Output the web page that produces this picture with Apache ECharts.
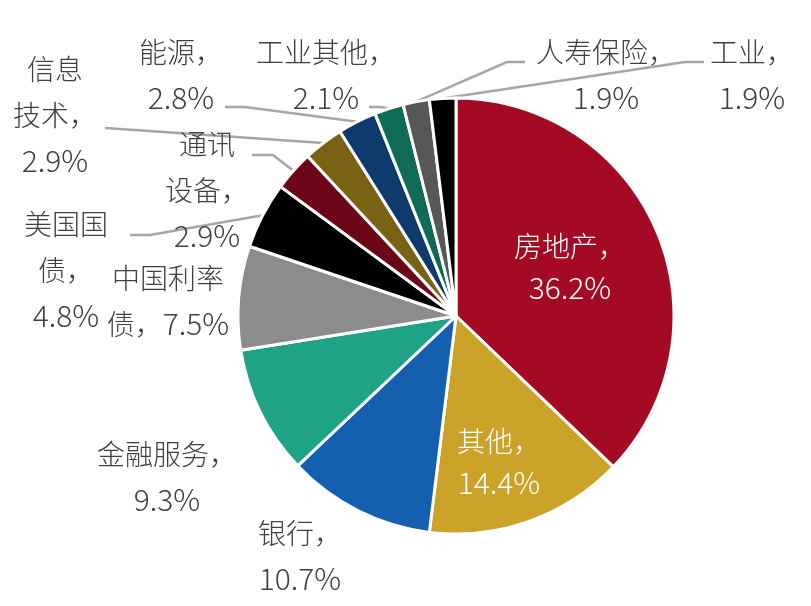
<!DOCTYPE html>
<html>
<head>
<meta charset="utf-8">
<title>行业分布饼图</title>
<script src="https://cdn.jsdelivr.net/npm/echarts@6/dist/echarts.min.js"></script>
<style>
  html, body { margin: 0; padding: 0; background: #fff; }
  #chart { width: 811px; height: 606px; }
</style>
</head>
<body>
<div id="chart"></div>
<script>
  // 数据
  var categories = ['房地产', '其他', '银行', '金融服务', '中国利率债', '美国国债', '通讯设备', '信息技术', '能源', '工业其他', '人寿保险', '工业'];
  var values = [36.2, 14.4, 10.7, 9.3, 7.5, 4.8, 2.9, 2.9, 2.8, 2.1, 1.9, 1.9];
  // 标签文字的换行方式
  var labelNames = ['房地产，\n', '其他，\n', '银行，\n', '金融服务，\n', '中国利率\n债，', '美国国\n债，\n', '通讯\n设备，\n', '信息\n技术，\n', '能源，\n', '工业其他，\n', '人寿保险，\n', '工业，\n'];

  var colors = ['#a50a25', '#c9a227', '#1460af', '#1fa387', '#8c8c8c', '#000000', '#6b0717', '#7a6214', '#0e3b6c', '#106a58', '#575757', '#000000'];

  // 标签中心位置
  var labelPos = [[570, 267], [499, 462], [300, 556], [167, 477], [168, 301], [66, 270],
                  [207, 190], [55, 115], [181, 75], [326, 75], [606, 75], [752, 75]];
  // 引导线拐点和终点（起点由饼图给出）
  var guides = [null, null, null, null, null,
                [[150, 235], [130, 235]],
                [[273, 155], [252, 155]],
                [[120, 129], [105, 128]],
                [[245, 107], [225, 107]],
                [[380, 107], [369, 107]],
                [[507, 62], [525, 62]],
                [[685, 62], [704, 62]]];

  var pieData = categories.map(function (name, i) {
    var item = { name: name, value: values[i], itemStyle: { color: colors[i] } };
    if (i < 2) item.label = { position: 'inside', color: '#fff' };
    if (!guides[i]) item.labelLine = { show: false };
    return item;
  });

  var myChart = echarts.init(document.getElementById('chart'));
  var option = {
    backgroundColor: '#fff',
    animation: false,
    series: [{
      type: 'pie',
      center: [456, 316],
      radius: 218,
      startAngle: 90,
      clockwise: true,
      avoidLabelOverlap: false,
      itemStyle: { borderColor: '#fff', borderWidth: 3 },
      label: {
        show: true,
        position: 'outside',
        fontFamily: '"Noto Sans CJK SC", sans-serif',
        fontWeight: 300,
        color: '#404040',
        formatter: function (p) {
          var k = p.dataIndex < 2 ? 'i' : '';
          var s = labelNames[p.dataIndex].split('\n').map(function (t) {
            return t ? '{n' + k + '|' + t + '}' : '';
          }).join('\n');
          return s + '{v' + k + '|' + p.value + '%}';
        },
        rich: {
          n: { fontSize: 28, lineHeight: 46, fontWeight: 300 },
          v: { fontSize: 30, lineHeight: 46, fontWeight: 300 },
          ni: { fontSize: 28, lineHeight: 41, fontWeight: 300 },
          vi: { fontSize: 30, lineHeight: 41, fontWeight: 300 }
        }
      },
      labelLine: {
        show: true,
        length: 10,
        length2: 10,
        lineStyle: { color: '#a6a6a6', width: 2.5 }
      },
      labelLayout: function (p) {
        var i = p.dataIndex;
        var o = { x: labelPos[i][0], y: labelPos[i][1], align: 'center', verticalAlign: 'middle' };
        if (guides[i] && p.labelLinePoints) {
          o.labelLinePoints = [p.labelLinePoints[0], guides[i][0], guides[i][1]];
        }
        return o;
      },
      emphasis: { disabled: true },
      data: pieData
    }]
  };
  myChart.setOption(option);
</script>
</body>
</html>
